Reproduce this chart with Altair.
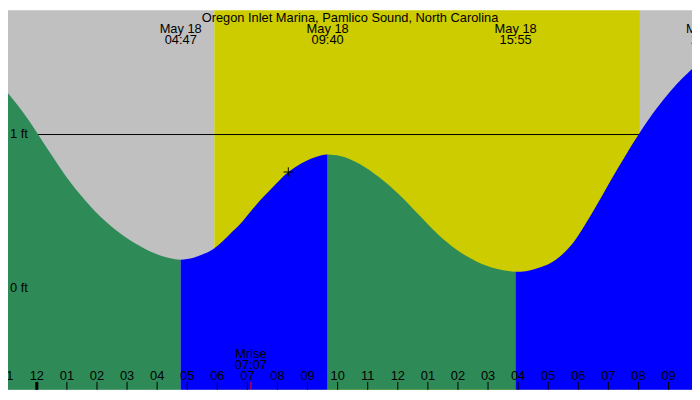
import altair as alt
import pandas as pd

TITLE = "Oregon Inlet Marina, Pamlico Sound, North Carolina"

# tide height (hours after midnight May 18, feet)
TIDE_HOURS = [-0.958, -0.633, -0.309, 0.016, 0.341, 0.666, 0.991, 1.315, 1.640, 1.965,
              2.290, 2.614, 2.939, 3.264, 3.589, 3.914, 4.238, 4.563, 4.783,
              5.211, 5.537, 5.894, 6.511, 6.836, 7.161, 7.486, 7.810, 8.362, 8.785,
              9.110, 9.434, 9.667,
              10.084, 10.734, 11.383, 12.033, 12.682, 13.332, 13.981, 14.631, 15.280,
              15.917,
              16.255, 16.580, 16.904, 17.229, 17.554, 17.879, 18.203, 18.528, 18.853,
              19.178, 19.502, 19.827, 19.990, 20.477, 20.802, 21.127, 21.452, 21.78]
TIDE_FEET = [1.269, 1.191, 1.105, 1.009, 0.910, 0.815, 0.722, 0.639, 0.565, 0.495,
             0.435, 0.381, 0.334, 0.293, 0.257, 0.227, 0.205, 0.190, 0.185,
             0.198, 0.222, 0.259, 0.370, 0.435, 0.512, 0.586, 0.651, 0.756, 0.812,
             0.843, 0.864, 0.870,
             0.861, 0.809, 0.722, 0.611, 0.481, 0.352, 0.247, 0.173, 0.127,
             0.107,
             0.111, 0.127, 0.148, 0.182, 0.235, 0.309, 0.407, 0.512, 0.623,
             0.735, 0.841, 0.946, 0.996, 1.136, 1.219, 1.296, 1.364, 1.426]

# high / low tides labelled along the top
EVENT_DATES = ["May 18", "May 18", "May 18", "May 18"]
EVENT_TIMES = ["04:47", "09:40", "15:55", "22:17"]

SUNRISE = "05:54"
SUNSET = "20:03"
MOONRISE = "07:07"

# "now" marker
NOW_HOUR = 8.36
NOW_FEET = 0.756

HOUR_TICKS = list(range(-1, 22))
HOUR_LABELS = ["11", "12", "01", "02", "03", "04", "05", "06", "07", "08", "09", "10",
               "11", "12", "01", "02", "03", "04", "05", "06", "07", "08", "09"]

FT_VALUES = [1, 0]
FT_LABELS = ["1 ft", "0 ft"]

GREEN = "#2e8b57"
BLUE = "#0000ff"
NIGHT = "#c0c0c0"
DAY = "#cccc00"
FONT = "Liberation Sans"

W, H = 692, 384
X0, X1 = -0.958, 21.78
Y0, Y1 = -0.6605, 1.8086


def to_hours(s):
    hh, mm = s.split(":")
    return int(hh) + int(mm) / 60


xs = alt.Scale(domain=[X0, X1], nice=False, zero=False)
ys = alt.Scale(domain=[Y0, Y1], nice=False, zero=False)

# split curve into falling (green) and rising (blue) pieces
tide = pd.DataFrame({"hour": TIDE_HOURS, "feet": TIDE_FEET})
bounds = [X0] + [to_hours(t) for t in EVENT_TIMES[:3]] + [X1]
pieces = []
for i in range(len(bounds) - 1):
    part = tide[(tide["hour"] >= bounds[i] - 0.01) & (tide["hour"] <= bounds[i + 1] + 0.01)].copy()
    part["seg"] = i
    part["fill"] = GREEN if i % 2 == 0 else BLUE
    pieces.append(part)
tide_segs = pd.concat(pieces, ignore_index=True)
tide_segs["base"] = Y0

sky = pd.DataFrame({
    "start": [X0, to_hours(SUNRISE), to_hours(SUNSET)],
    "end": [to_hours(SUNRISE), to_hours(SUNSET), X1],
    "fill": [NIGHT, DAY, NIGHT],
})

events = pd.DataFrame({
    "hour": [to_hours(t) for t in EVENT_TIMES],
    "date": EVENT_DATES,
    "time": EVENT_TIMES,
})

ticks = pd.DataFrame({"hour": HOUR_TICKS, "label": HOUR_LABELS})
ticks["w"] = [3 if h == 0 else 1 for h in HOUR_TICKS]
ticks["c"] = "black"
moon_tick = pd.DataFrame({"hour": [to_hours(MOONRISE)], "w": [1], "c": ["red"]})
all_ticks = pd.concat([ticks[["hour", "w", "c"]], moon_tick], ignore_index=True)

background = alt.Chart(sky).mark_rect().encode(
    x=alt.X("start:Q", scale=xs, axis=None),
    x2="end:Q",
    y=alt.value(0),
    y2=alt.value(H),
    color=alt.Color("fill:N", scale=None),
)

one_ft = alt.Chart(pd.DataFrame({"feet": [1]})).mark_rule(color="black", strokeWidth=1).encode(
    y=alt.Y("feet:Q", scale=ys, axis=None),
    x=alt.value(0),
    x2=alt.value(W),
)

area = alt.Chart(tide_segs).mark_area(interpolate="monotone").encode(
    x=alt.X("hour:Q", scale=xs, axis=None),
    y=alt.Y("feet:Q", scale=ys, axis=None),
    y2="base:Q",
    detail="seg:N",
    color=alt.Color("fill:N", scale=None),
)

now = alt.Chart(pd.DataFrame({"hour": [NOW_HOUR], "feet": [NOW_FEET]})).mark_point(
    shape="M-1,0L1,0M0,-1L0,1", filled=False, color="black", size=90, strokeWidth=1, opacity=1
).encode(
    x=alt.X("hour:Q", scale=xs, axis=None),
    y=alt.Y("feet:Q", scale=ys, axis=None),
)

ft_text = alt.Chart(pd.DataFrame({"feet": FT_VALUES, "label": FT_LABELS})).mark_text(
    align="left", baseline="middle", font=FONT, fontSize=13, color="black"
).encode(
    x=alt.value(2),
    y=alt.Y("feet:Q", scale=ys, axis=None),
    text="label:N",
)

title = alt.Chart(pd.DataFrame({"t": [TITLE]})).mark_text(
    align="center", baseline="alphabetic", font=FONT, fontSize=13, color="black"
).encode(x=alt.value(W / 2), y=alt.value(11.5), text="t:N")

ev_date = alt.Chart(events).mark_text(
    align="center", baseline="alphabetic", font=FONT, fontSize=13, color="black"
).encode(x=alt.X("hour:Q", scale=xs, axis=None), y=alt.value(23), text="date:N")

ev_time = alt.Chart(events).mark_text(
    align="center", baseline="alphabetic", font=FONT, fontSize=13, color="black"
).encode(x=alt.X("hour:Q", scale=xs, axis=None), y=alt.value(34.6), text="time:N")

moon = pd.DataFrame({"hour": [to_hours(MOONRISE)], "a": ["Mrise"], "b": [MOONRISE]})
moon_a = alt.Chart(moon).mark_text(
    align="center", baseline="alphabetic", font=FONT, fontSize=13, color="black"
).encode(x=alt.X("hour:Q", scale=xs, axis=None), y=alt.value(351.5), text="a:N")
moon_b = alt.Chart(moon).mark_text(
    align="center", baseline="alphabetic", font=FONT, fontSize=13, color="black"
).encode(x=alt.X("hour:Q", scale=xs, axis=None), y=alt.value(362.5), text="b:N")

tick_text = alt.Chart(ticks).mark_text(
    align="center", baseline="alphabetic", font=FONT, fontSize=13, color="black"
).encode(x=alt.X("hour:Q", scale=xs, axis=None), y=alt.value(374.5), text="label:N")

tick_marks = alt.Chart(all_ticks).mark_rule().encode(
    x=alt.X("hour:Q", scale=xs, axis=None),
    y=alt.value(H - 8),
    y2=alt.value(H),
    strokeWidth=alt.StrokeWidth("w:Q", scale=None),
    color=alt.Color("c:N", scale=None),
)

chart = alt.layer(
    background, one_ft, area, now, ft_text, title, ev_date, ev_time,
    moon_a, moon_b, tick_text, tick_marks,
).properties(
    width=W, height=H, padding=0,
    autosize=alt.AutoSizeParams(type="none"),
).configure_view(strokeWidth=0)

chart.save("out.html", embed_options={"renderer": "svg", "actions": False})
